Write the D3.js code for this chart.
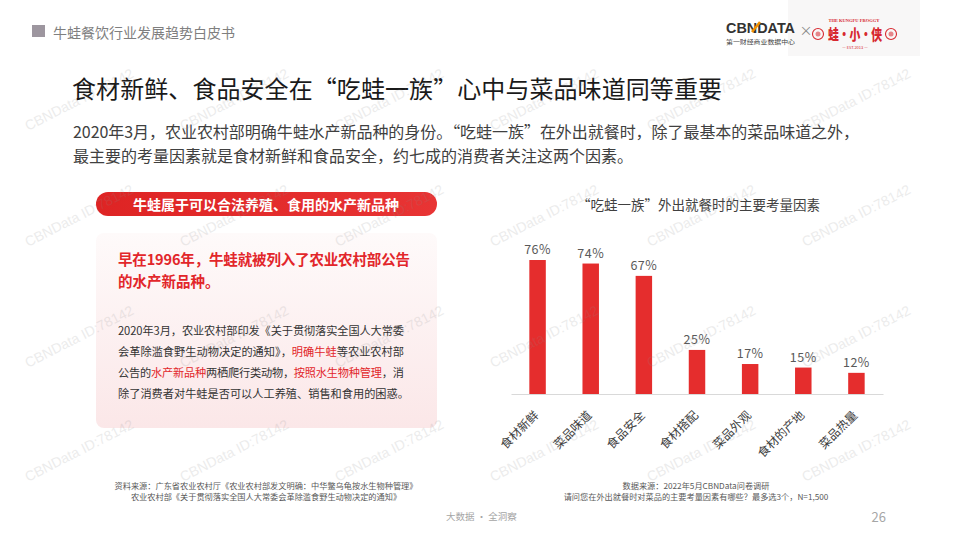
<!DOCTYPE html>
<html><head><meta charset="utf-8">
<script src="https://cdn.jsdelivr.net/npm/d3@7"></script>
<style>
html,body{margin:0;padding:0;background:#fff;}
svg{display:block;font-family:"Noto Sans CJK SC","Noto Sans",sans-serif;}
</style></head>
<body><svg id="c" width="960" height="540"></svg>
<script>
const categories = ["食材新鲜","菜品味道","食品安全","食材搭配","菜品外观","食材的产地","菜品热量"];
const values = [76,74,67,25,17,15,12];
const chartTitle = "“吃蛙一族”外出就餐时的主要考量因素";
const pageHeader = "牛蛙餐饮行业发展趋势白皮书";
const mainTitle = "食材新鲜、食品安全在“吃蛙一族”心中与菜品味道同等重要";
const subLines = ["2020年3月，农业农村部明确牛蛙水产新品种的身份。“吃蛙一族”在外出就餐时，除了最基本的菜品味道之外，",
                  "最主要的考量因素就是食材新鲜和食品安全，约七成的消费者关注这两个因素。"];
const pillText = "牛蛙属于可以合法养殖、食用的水产新品种";
const redLines = ["早在1996年，牛蛙就被列入了农业农村部公告","的水产新品种。"];
const bodyLines = [
  [["2020年3月，农业农村部印发《关于贯彻落实全国人大常委",0]],
  [["会革除滥食野生动物决定的通知》，",0],["明确牛蛙",1],["等农业农村部",0]],
  [["公告的",0],["水产新品种",1],["两栖爬行类动物，",0],["按照水生物种管理",1],["，消",0]],
  [["除了消费者对牛蛙是否可以人工养殖、销售和食用的困惑。",0]]
];
const leftSource = ["资料来源：广东省农业农村厅《农业农村部发文明确：中华鳖乌龟按水生物种管理》",
                    "农业农村部《关于贯彻落实全国人大常委会革除滥食野生动物决定的通知》"];
const rightSource = ["数据来源：2022年5月CBNData问卷调研",
                     "请问您在外出就餐时对菜品的主要考量因素有哪些？最多选3个，N=1,500"];
const footerText = "大数据 · 全洞察";
const pageNum = "26";
const watermark = "CBNData ID:78142";

const svg = d3.select("#c");
const defs = svg.append("defs");
const g1 = defs.append("linearGradient").attr("id","pill").attr("x1",0).attr("x2",1).attr("y1",0).attr("y2",0);
g1.append("stop").attr("offset","0%").attr("stop-color","#de2424");
g1.append("stop").attr("offset","100%").attr("stop-color","#e83434");
const g2 = defs.append("linearGradient").attr("id","box").attr("x1",0).attr("x2",0).attr("y1",0).attr("y2",1);
g2.append("stop").attr("offset","0%").attr("stop-color","#fefafa");
g2.append("stop").attr("offset","100%").attr("stop-color","#fbe7e8");

// header
svg.append("rect").attr("x",32).attr("y",25).attr("width",13).attr("height",12).attr("fill","#9d969f");
svg.append("text").attr("x",53).attr("y",32).attr("dominant-baseline","central")
  .attr("font-size",14).attr("fill","#7f7f7f").text(pageHeader);

// logos
svg.append("rect").attr("x",788).attr("y",0).attr("width",132).attr("height",56).attr("fill","#f8f7f7");
svg.append("text").attr("x",726).attr("y",32.5).attr("font-size",14.5).attr("font-weight",700)
  .attr("font-family","Liberation Sans, Arial, sans-serif").attr("fill","#333")
  .attr("textLength",69).attr("lengthAdjust","spacingAndGlyphs").text("CBNDATA");
svg.append("line").attr("x1",752).attr("y1",32).attr("x2",760).attr("y2",22).attr("stroke","#f29100").attr("stroke-width",2.5);
svg.append("text").attr("x",726).attr("y",44).attr("font-size",6).attr("fill","#444")
  .attr("textLength",69).attr("lengthAdjust","spacingAndGlyphs").text("第一财经商业数据中心");
svg.append("text").attr("x",806).attr("y",35).attr("font-size",13).attr("fill","#888").attr("text-anchor","middle").text("×");
[818,891].forEach(cx=>{
  svg.append("circle").attr("cx",cx).attr("cy",34).attr("r",5.5).attr("fill","none").attr("stroke","#d7282f").attr("stroke-width",1.1);
  svg.append("circle").attr("cx",cx).attr("cy",34).attr("r",2.5).attr("fill","#d7282f").attr("opacity",0.55);
});
svg.append("text").attr("x",854).attr("y",22).attr("font-size",4.5).attr("font-weight",700).attr("fill","#d7282f")
  .attr("text-anchor","middle").attr("font-family","Liberation Serif, serif").text("THE KUNGFU FROGGY");
svg.append("text").attr("x",828).attr("y",40).attr("font-size",14.5).attr("font-weight",900).attr("fill","#d7282f")
  .attr("textLength",54).attr("lengthAdjust","spacingAndGlyphs").text("蛙·小·侠");
svg.append("text").attr("x",855).attr("y",49).attr("font-size",4).attr("fill","#d7282f")
  .attr("text-anchor","middle").text("— EST.2013 —");

// title & subtitle
svg.append("text").attr("x",72).attr("y",87).attr("dominant-baseline","central")
  .attr("font-size",24).attr("fill","#1a1a1a").attr("textLength",650).attr("lengthAdjust","spacing").text(mainTitle);
subLines.forEach((t,i)=>{
  const tx = svg.append("text").attr("x",73).attr("y",131+i*24).attr("dominant-baseline","central")
    .attr("font-size",16).attr("fill","#404040").text(t);
  if(i===0) tx.attr("textLength",786).attr("lengthAdjust","spacing");
});

// left panel
svg.append("rect").attr("x",96).attr("y",233).attr("width",341).attr("height",195).attr("rx",8).attr("fill","url(#box)");
svg.append("rect").attr("x",96).attr("y",192).attr("width",341).attr("height",24).attr("rx",12).attr("fill","url(#pill)");
svg.append("text").attr("x",266).attr("y",204).attr("dominant-baseline","central").attr("text-anchor","middle")
  .attr("font-size",14).attr("font-weight",700).attr("fill","#fff").text(pillText);
redLines.forEach((t,i)=>{
  const tx = svg.append("text").attr("x",118).attr("y",258+i*22).attr("dominant-baseline","central")
    .attr("font-size",14.5).attr("font-weight",700).attr("fill","#e2262a").text(t);
  if(i===0) tx.attr("textLength",292).attr("lengthAdjust","spacing");
});
bodyLines.forEach((parts,i)=>{
  const tx = svg.append("text").attr("x",118).attr("y",330+i*21).attr("dominant-baseline","central")
    .attr("font-size",11.2).attr("fill","#333");
  if(i<3) tx.attr("textLength",286).attr("lengthAdjust","spacing");
  parts.forEach(p=>tx.append("tspan").attr("fill",p[1]?"#e2262a":"#333").text(p[0]));
});
leftSource.forEach((t,i)=>{
  svg.append("text").attr("x",266).attr("y",485+i*10.5).attr("dominant-baseline","central").attr("text-anchor","middle")
    .attr("font-size",8.2).attr("fill","#595959").text(t);
});

// chart
const x = d3.scaleBand().domain(categories).range([511,883]).paddingInner(0.69).paddingOuter(0.345);
const y = d3.scaleLinear().domain([0,100]).range([394,394-176.3]);
svg.append("text").attr("x",577).attr("y",204).attr("dominant-baseline","central")
  .attr("font-size",13.5).attr("fill","#404040").attr("textLength",243).attr("lengthAdjust","spacing").text(chartTitle);
svg.selectAll("rect.bar").data(values).enter().append("rect").attr("class","bar")
  .attr("x",(d,i)=>x(categories[i])).attr("width",x.bandwidth())
  .attr("y",d=>y(d)).attr("height",d=>y(0)-y(d)).attr("fill","#e52d2d");
svg.selectAll("text.val").data(values).enter().append("text").attr("class","val")
  .attr("x",(d,i)=>x(categories[i])+x.bandwidth()/2).attr("y",d=>y(d)-6)
  .attr("text-anchor","middle").attr("font-size",12.5).attr("fill","#595959")
  .attr("letter-spacing",0.5).text(d=>d+"%");
const axis = d3.axisBottom(x).tickSize(0).tickPadding(0);
const ax = svg.append("g").attr("transform","translate(0,394)").call(axis);
ax.select(".domain").attr("stroke","#d9d9d9").attr("stroke-width",1);
ax.selectAll(".tick text")
  .attr("font-family","Noto Sans CJK SC, sans-serif").attr("font-size",12).attr("fill","#404040")
  .attr("text-anchor","end").attr("dominant-baseline","central").attr("dy",null).attr("y",null)
  .attr("transform","translate(-2,18) rotate(-45)");
rightSource.forEach((t,i)=>{
  svg.append("text").attr("x",696).attr("y",485+i*10.5).attr("dominant-baseline","central").attr("text-anchor","middle")
    .attr("font-size",8.2).attr("fill","#595959").text(t);
});

// footer
svg.append("text").attr("x",446).attr("y",516).attr("dominant-baseline","central")
  .attr("font-size",9.5).attr("fill","#a6a6a6").text(footerText);
svg.append("text").attr("x",886).attr("y",516).attr("dominant-baseline","central").attr("text-anchor","end")
  .attr("font-size",13).attr("fill","#a6a6a6").text(pageNum);

// watermarks
const wm = svg.append("g").attr("pointer-events","none");
[131,247,368,482].forEach(wy=>{
  [28,183,338,493,650,805].forEach(wx=>{
    wm.append("text").attr("transform",`translate(${wx},${wy}) rotate(-27)`)
      .attr("font-family","Liberation Sans, Arial, sans-serif").attr("font-size",14)
      .attr("fill","#8c8c8c").attr("opacity",0.16).text(watermark);
  });
});
</script></body></html>
